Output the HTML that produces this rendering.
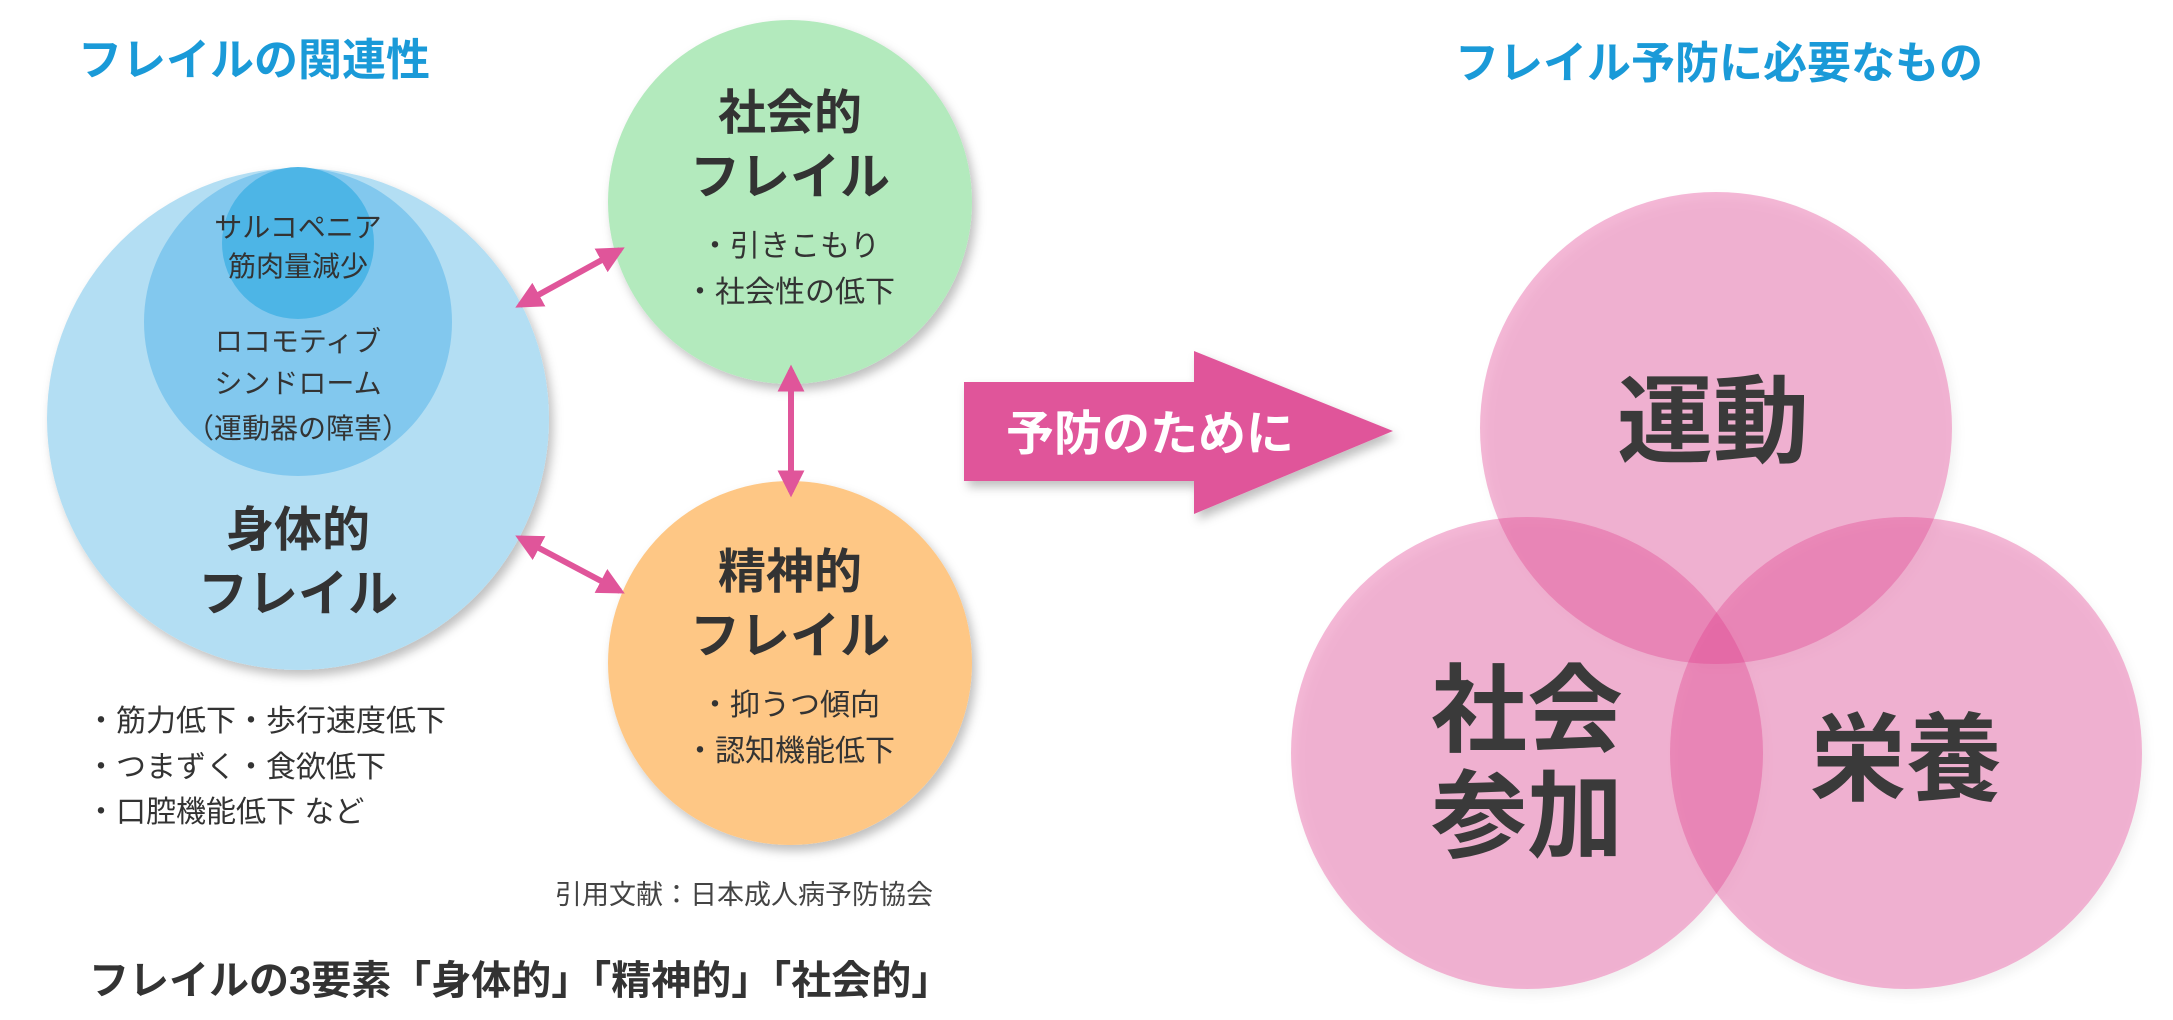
<!DOCTYPE html>
<html><head><meta charset="utf-8"><style>
html,body{margin:0;padding:0;background:#fff;}
svg{display:block;}
text{font-family:"Liberation Sans","Noto Sans CJK JP",sans-serif;}
</style></head><body>
<svg width="2173" height="1020" viewBox="0 0 2173 1020" xmlns="http://www.w3.org/2000/svg">
<defs>
<filter id="sh" x="-20%" y="-20%" width="140%" height="140%"><feDropShadow dx="4" dy="6" stdDeviation="5" flood-color="#000" flood-opacity="0.25"/></filter>
<filter id="sh2" x="-20%" y="-20%" width="140%" height="140%"><feDropShadow dx="4" dy="6" stdDeviation="5" flood-color="#000" flood-opacity="0.15"/></filter>
<marker id="ah" viewBox="0 0 10 10" refX="8" refY="5" markerWidth="4.5" markerHeight="4.5" orient="auto-start-reverse"><path d="M0,0 L10,5 L0,10 z" fill="#e0559a"/></marker>
</defs>
<text x="78" y="75" font-size="44" font-weight="bold" fill="#1a9ad8">フレイルの関連性</text>
<text x="1455" y="78" font-size="44" font-weight="bold" fill="#1a9ad8">フレイル予防に必要なもの</text>

<circle cx="298" cy="419" r="251" fill="#b3def3" filter="url(#sh)"/>
<circle cx="298" cy="322" r="154" fill="#82c8ee"/>
<circle cx="298" cy="243" r="76" fill="#4db5e6"/>
<circle cx="790" cy="202" r="182" fill="#b3eabd" filter="url(#sh)"/>
<circle cx="790" cy="663" r="182" fill="#fec785" filter="url(#sh)"/>

<g fill="#333" text-anchor="middle">
<text x="298" y="237" font-size="28">サルコペニア</text>
<text x="298" y="276" font-size="28">筋肉量減少</text>
<text x="298" y="351" font-size="28">ロコモティブ</text>
<text x="298" y="393" font-size="28">シンドローム</text>
<text x="298" y="438" font-size="28">（運動器の障害）</text>
<text x="298" y="546" font-size="48" font-weight="bold">身体的</text>
<text x="298" y="611" font-size="50" font-weight="bold">フレイル</text>
<text x="790" y="129" font-size="48" font-weight="bold">社会的</text>
<text x="790" y="194" font-size="50" font-weight="bold">フレイル</text>
<text x="790" y="256" font-size="30">・引きこもり</text>
<text x="790" y="302" font-size="30">・社会性の低下</text>
<text x="790" y="588" font-size="48" font-weight="bold">精神的</text>
<text x="790" y="653" font-size="50" font-weight="bold">フレイル</text>
<text x="790" y="715" font-size="30">・抑うつ傾向</text>
<text x="790" y="761" font-size="30">・認知機能低下</text>
</g>
<g fill="#333" font-size="30">
<text x="86" y="731">・筋力低下・歩行速度低下</text>
<text x="86" y="777">・つまずく・食欲低下</text>
<text x="86" y="822">・口腔機能低下 など</text>
</g>
<text x="555" y="904" font-size="27" fill="#444">引用文献：日本成人病予防協会</text>
<text x="89" y="994" font-size="40" font-weight="bold" fill="#333">フレイルの3要素「身体的」「精神的」「社会的」</text>

<g stroke="#e0559a" stroke-width="6" fill="none">
<line x1="520" y1="305" x2="620" y2="250" marker-start="url(#ah)" marker-end="url(#ah)"/>
<line x1="791" y1="370" x2="791" y2="492" marker-start="url(#ah)" marker-end="url(#ah)"/>
<line x1="520" y1="538" x2="620" y2="591" marker-start="url(#ah)" marker-end="url(#ah)"/>
</g>

<path d="M964,382 L1194,382 L1194,351 L1393,431 L1194,514 L1194,481 L964,481 Z" fill="#e0559a" filter="url(#sh)"/>
<text x="1150" y="450" font-size="48" font-weight="bold" fill="#fff" text-anchor="middle">予防のために</text>

<g fill="rgba(225,60,140,0.36)" filter="url(#sh2)">
<circle cx="1716" cy="428" r="236"/>
<circle cx="1527" cy="753" r="236"/>
<circle cx="1906" cy="753" r="236"/>
</g>
<g fill="#3a3a3a" font-weight="bold" text-anchor="middle" font-size="96">
<text x="1713" y="455">運動</text>
<text x="1527" y="744">社会</text>
<text x="1527" y="850">参加</text>
<text x="1906" y="793">栄養</text>
</g>
</svg>
</body></html>
